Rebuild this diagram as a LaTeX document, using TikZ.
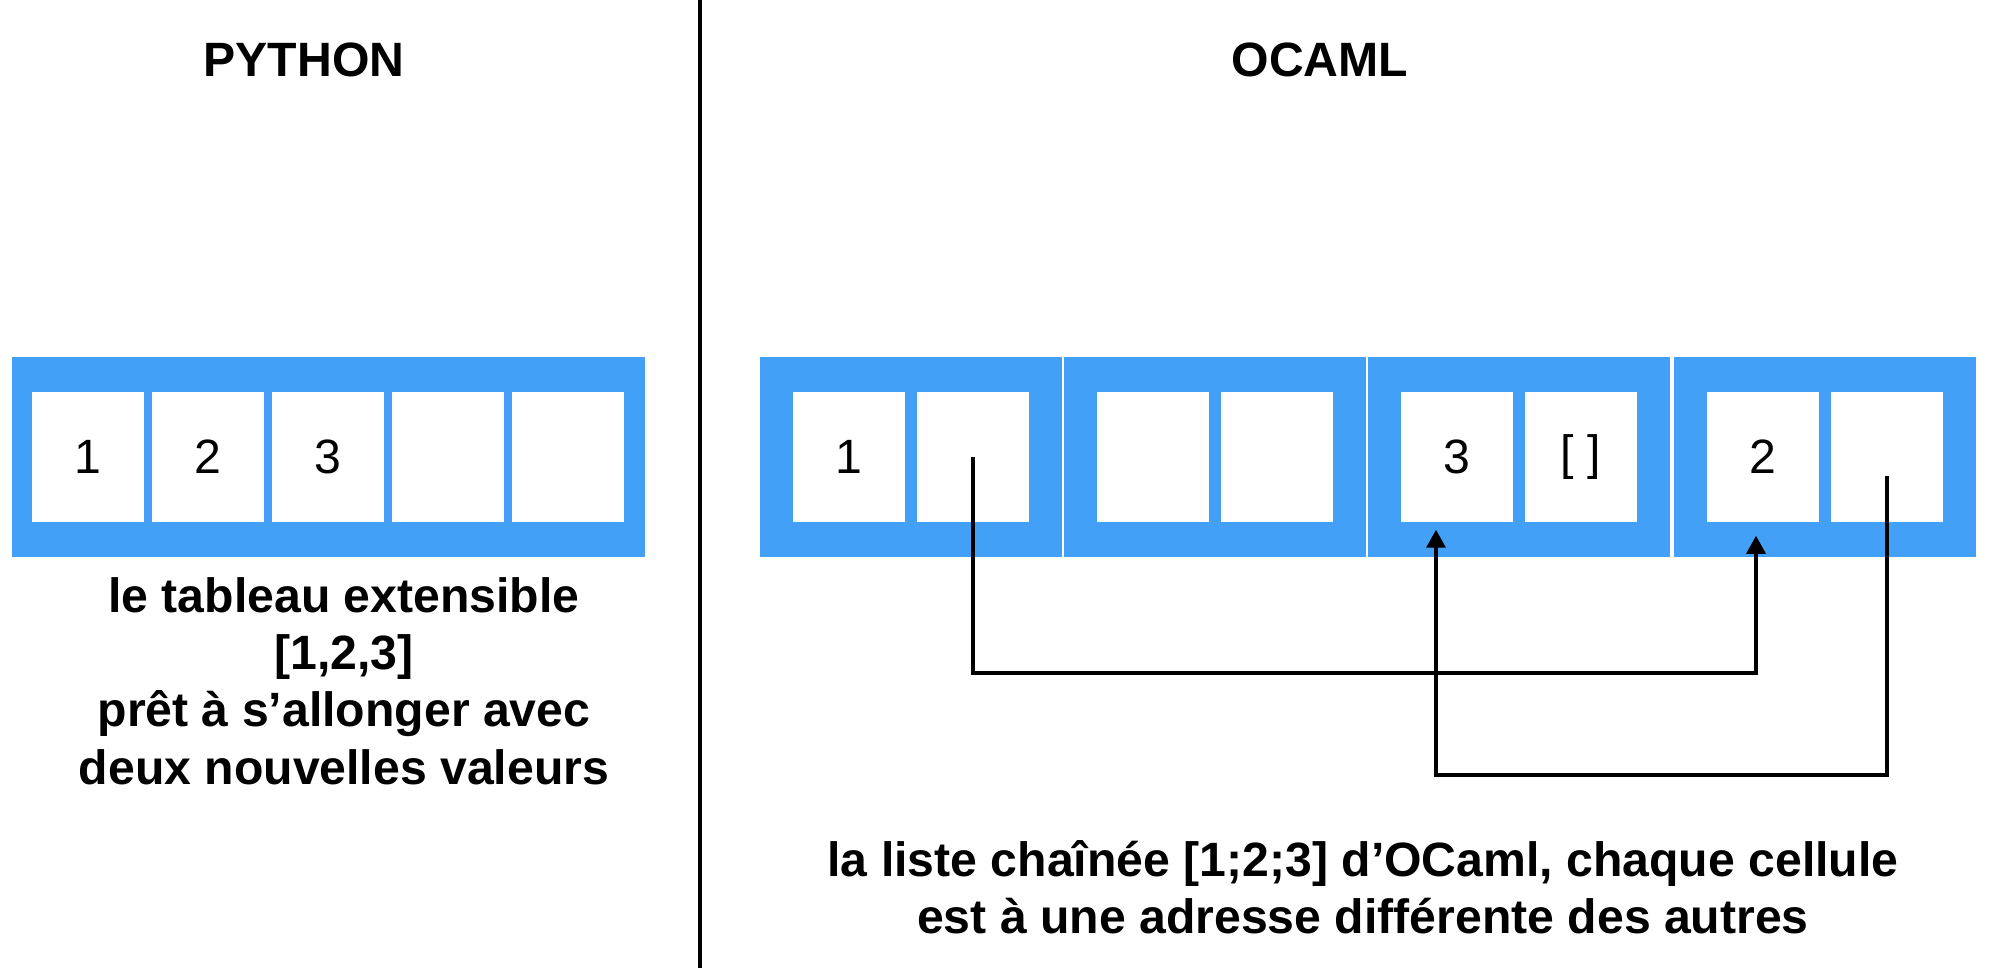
\documentclass[tikz,border=0pt]{standalone}
\usepackage{fontspec}
\setmainfont{Liberation Sans}
\usetikzlibrary{positioning, arrows.meta}
\definecolor{cellblue}{RGB}{66,161,247}

\begin{document}
\begin{tikzpicture}[
    x=0.01cm, y=-0.01cm,
    frame/.style={fill=cellblue, draw=none, minimum height=2cm, inner sep=0pt},
    cell/.style={fill=white, minimum width=1.12cm, minimum height=1.3cm, inner sep=0pt, font=\fontsize{13.7}{16}\selectfont},
    title/.style={inner sep=0pt, font=\fontsize{13.7}{16}\selectfont\bfseries},
    caption/.style={align=center, inner sep=0pt, font=\fontsize{13.7}{16.3}\selectfont\bfseries},
    ptr/.style={line width=0.95pt, -{Triangle[length=0.18cm, width=0.19cm]}},
]
\useasboundingbox (0,0) rectangle (1992,968);

% Separator
\coordinate (sepT) at (700,0);
\coordinate (sepB) at (700,968);
\draw[line width=1pt] (sepT) -- (sepB);

% Titles
\node[title] (tpy) at (304,60) {PYTHON};
\node[title] (tml) at (1320,60) {OCAML};

% Python array
\node[frame, minimum width=6.33cm] (arr) at (328.5,457) {};
\foreach \v [count=\i] in {1,2,3,{},{}} {
  \node[cell] (p\i) at ({88+(\i-1)*120},457) {\v};
}
\node[caption] (cpy) at (344,681) {le tableau extensible\\{[1,2,3]}\\prêt à s’allonger avec\\deux nouvelles valeurs};

% OCaml cells
\foreach \bx/\va/\vb [count=\k] in {911/1/{}, 1215/{}/{}, 1519/3/{[ ]}, 1825/2/{}} {
  \node[frame, minimum width=3.02cm] (b\k) at (\bx,457) {};
  \node[cell] (c\k a) at (\bx-62,457) {\va};
  \node[cell] (c\k b) at (\bx+62,457) {\vb};
}

% Pointers
\coordinate (lowA) at (0,673);
\coordinate (lowB) at (0,775);
\draw[ptr] (c1b.center) -- (c1b.center |- lowA) -| ([xshift=-0.07cm, yshift=-0.13cm]c4a.south);
\draw[ptr] ([yshift=-0.19cm]c4b.center) -- (c4b.center |- lowB) -| ([xshift=-0.21cm, yshift=-0.07cm]c3a.south);

\node[caption] (cml) at (1363,887) {la liste chaînée [1;2;3] d’OCaml, chaque cellule\\est à une adresse différente des autres};
\end{tikzpicture}
\end{document}
